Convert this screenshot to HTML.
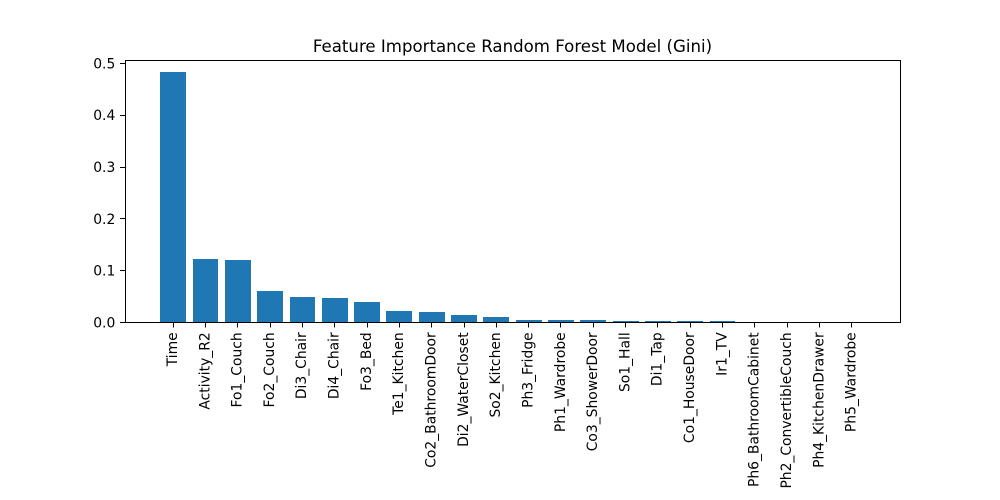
<!DOCTYPE html>
<html lang="en">
<head>
<meta charset="utf-8">
<title>Feature Importance Random Forest Model (Gini)</title>
<style>
html,body{margin:0;padding:0;background:#fff;}
#chart{display:block;width:1000px;height:500px;font-family:"DejaVu Sans",sans-serif;}
</style>
</head>
<body>
<svg id="chart" xmlns="http://www.w3.org/2000/svg" width="1000" height="500" viewBox="0 0 1000 500">
<rect x="0" y="0" width="1000" height="500" fill="#ffffff"/>
<text x="512.5" y="52" text-anchor="middle" font-size="16.6" fill="#000">Feature Importance Random Forest Model (Gini)</text>
<g id="bars"></g>
<g id="x-axis"></g>
<g id="y-axis"></g>
<rect x="125.5" y="60.5" width="775" height="262" fill="none" stroke="#000" stroke-width="1.11" shape-rendering="crispEdges"/>
</svg>
<script>
const categories = ["Time","Activity_R2","Fo1_Couch","Fo2_Couch","Di3_Chair","Di4_Chair","Fo3_Bed","Te1_Kitchen","Co2_BathroomDoor","Di2_WaterCloset","So2_Kitchen","Ph3_Fridge","Ph1_Wardrobe","Co3_ShowerDoor","So1_Hall","Di1_Tap","Co1_HouseDoor","Ir1_TV","Ph6_BathroomCabinet","Ph2_ConvertibleCouch","Ph4_KitchenDrawer","Ph5_Wardrobe"];
const importance = [0.4825,0.1225,0.1205,0.0608,0.049,0.047,0.039,0.022,0.02,0.014,0.0105,0.0047,0.0047,0.0047,0.0025,0.0025,0.0025,0.0025,0,0,0,0];
const yTicks = [0,0.1,0.2,0.3,0.4,0.5];

const NS = "http://www.w3.org/2000/svg";
const plotLeft = 125, plotRight = 900, plotTop = 60, plotBottom = 322.4;
const barWidth = 0.8;
const xMin = -barWidth / 2 - (categories.length - 1 + barWidth) * 0.05;
const xMax = categories.length - 1 + barWidth / 2 + (categories.length - 1 + barWidth) * 0.05;
const yMax = Math.max.apply(null, importance) * 1.05;

function xScale(v) { return plotLeft + (v - xMin) / (xMax - xMin) * (plotRight - plotLeft); }
function yScale(v) { return plotBottom - v / yMax * (plotBottom - plotTop); }
function make(tag, attrs) {
  const el = document.createElementNS(NS, tag);
  Object.keys(attrs).forEach(function (k) { el.setAttribute(k, attrs[k]); });
  return el;
}

const barsGroup = document.getElementById("bars");
const xGroup = document.getElementById("x-axis");
const yGroup = document.getElementById("y-axis");

categories.forEach(function (name, i) {
  const left = Math.round(xScale(i - barWidth / 2));
  const right = Math.round(xScale(i + barWidth / 2));
  const top = Math.round(yScale(importance[i]));
  const bar = make("rect", { x: left, y: top, width: right - left, height: Math.max(0, plotBottom - top), fill: "#1f77b4" });
  
  
  barsGroup.appendChild(bar);

  const tx = Math.floor(xScale(i)) + 0.5;
  const tick = make("line", { x1: tx, x2: tx, y1: 322.5, y2: 327.4, stroke: "#000", "stroke-width": 1.11, "shape-rendering": "crispEdges" });
  
  
  xGroup.appendChild(tick);

  const lx = xScale(i) + 3.8;
  const label = make("text", { x: lx, y: 332.3, "text-anchor": "end", "font-size": 13.89, fill: "#000", transform: "rotate(-90 " + lx + " 332.3)" });
  
  
  label.textContent = name;
  xGroup.appendChild(label);
});

yTicks.forEach(function (v) {
  const ty = Math.floor(yScale(v)) + 0.5;
  const tick = make("line", { x1: 120.1, x2: 125, y1: ty, y2: ty, stroke: "#000", "stroke-width": 1.11, "shape-rendering": "crispEdges" });
  
  
  yGroup.appendChild(tick);

  const label = make("text", { x: 115.3, y: yScale(v) + 5, "text-anchor": "end", "font-size": 13.89, fill: "#000" });
  
  
  label.textContent = v.toFixed(1);
  yGroup.appendChild(label);
});
</script>
</body>
</html>
